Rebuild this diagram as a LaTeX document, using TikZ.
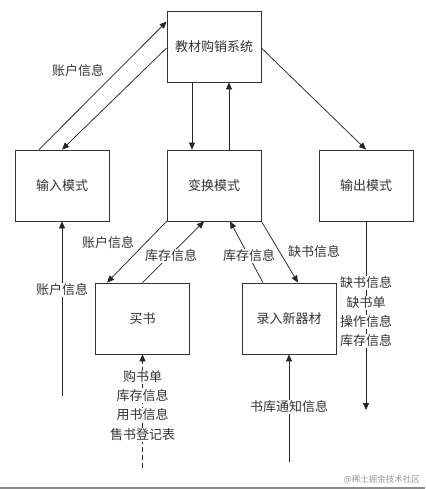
\documentclass[tikz,border=0pt]{standalone}
\usepackage{fontspec}
\setmainfont{Noto Sans CJK SC}
\usetikzlibrary{arrows.meta}
\begin{document}
\begin{tikzpicture}[x=1pt,y=-1pt,
  every node/.style={font=\fontsize{13}{15}\selectfont, text=black!80},
  box/.style={draw=black!80, line width=0.8pt, minimum width=94pt, minimum height=71pt, inner sep=0pt},
  flow/.style={draw=black!85, line width=0.75pt, -{Triangle[length=7pt,width=6pt]}},
  lab/.style={fill=white, inner sep=0.6pt},
  plainlab/.style={inner sep=0.6pt}]
\useasboundingbox (0,0) rectangle (425,489);
\fill[white] (0,0) rectangle (425,489);
% boxes
\node[box] (sys) at (214,46.5) {教材购销系统};
\node[box] (in)  at (62,185.5) {输入模式};
\node[box] (tr)  at (214,185.5) {变换模式};
\node[box] (out) at (366,185.5) {输出模式};
\node[box] (buy) at (142.5,318.5) {买书};
\node[box] (rec) at (289,318.5) {录入新器材};
% free ends
\coordinate (inSrc) at (62,396);
\coordinate (outEnd) at (366,410);
\coordinate (buySrc) at (142.5,468);
\coordinate (recSrc) at (289,462);
% top connectors
\draw[flow] ([xshift=-23pt]in.north) -- ([yshift=-11pt]sys.north west);
\draw[flow] ([yshift=-1.5pt]sys.west) -- (in.north);
\draw[flow] ([xshift=-22pt]sys.south) -- ([xshift=-22pt]tr.north);
\draw[flow] ([xshift=15pt]tr.north) -- ([xshift=15pt]sys.south);
\draw[flow] ([yshift=-1.5pt]sys.east) -- (out.north);
% lower connectors
\draw[flow] (inSrc) -- (in.south);
\draw[flow] (tr.south west) -- ([xshift=-35.5pt]buy.north);
\draw[flow] (buy.north) -- ([xshift=-10pt]tr.south);
\draw[flow] ([xshift=-26pt]rec.north) -- ([xshift=16pt]tr.south);
\draw[flow] (tr.south east) -- ([xshift=9pt]rec.north);
\draw[flow] (out.south) -- (outEnd);
\draw[flow, dashed, dash pattern=on 5pt off 3pt] (buySrc) -- (buy.south);
\draw[flow] (recSrc) -- (rec.south);
% labels
\node[plainlab] (l1) at (78,71) {账户信息};
\node[lab] (l2) at (62,290) {账户信息};
\node[plainlab] (l3) at (108,243) {账户信息};
\node[lab] (l4) at (171,256) {库存信息};
\node[lab] (l5) at (249,256) {库存信息};
\node[plainlab] (l6) at (314,252) {缺书信息};
\node[lab] (o1) at (366,283) {缺书信息};
\node[lab] (o2) at (366,303) {缺书单};
\node[lab] (o3) at (366,322) {操作信息};
\node[lab] (o4) at (366,341) {库存信息};
\node[lab] (b1) at (142.5,377) {购书单};
\node[lab] (b2) at (142.5,396) {库存信息};
\node[lab] (b3) at (142.5,415) {用书信息};
\node[lab] (b4) at (142.5,435) {售书登记表};
\node[lab] (r1) at (289,407) {书库通知信息};
% watermark
\node[anchor=east, inner sep=0pt, font=\fontsize{8.5}{10}\selectfont, text=black!40] (wm) at (420,480) {@稀土掘金技术社区};
\draw[black!45, line width=1.5pt] (0,488) -- (425,488);
\end{tikzpicture}
\end{document}
